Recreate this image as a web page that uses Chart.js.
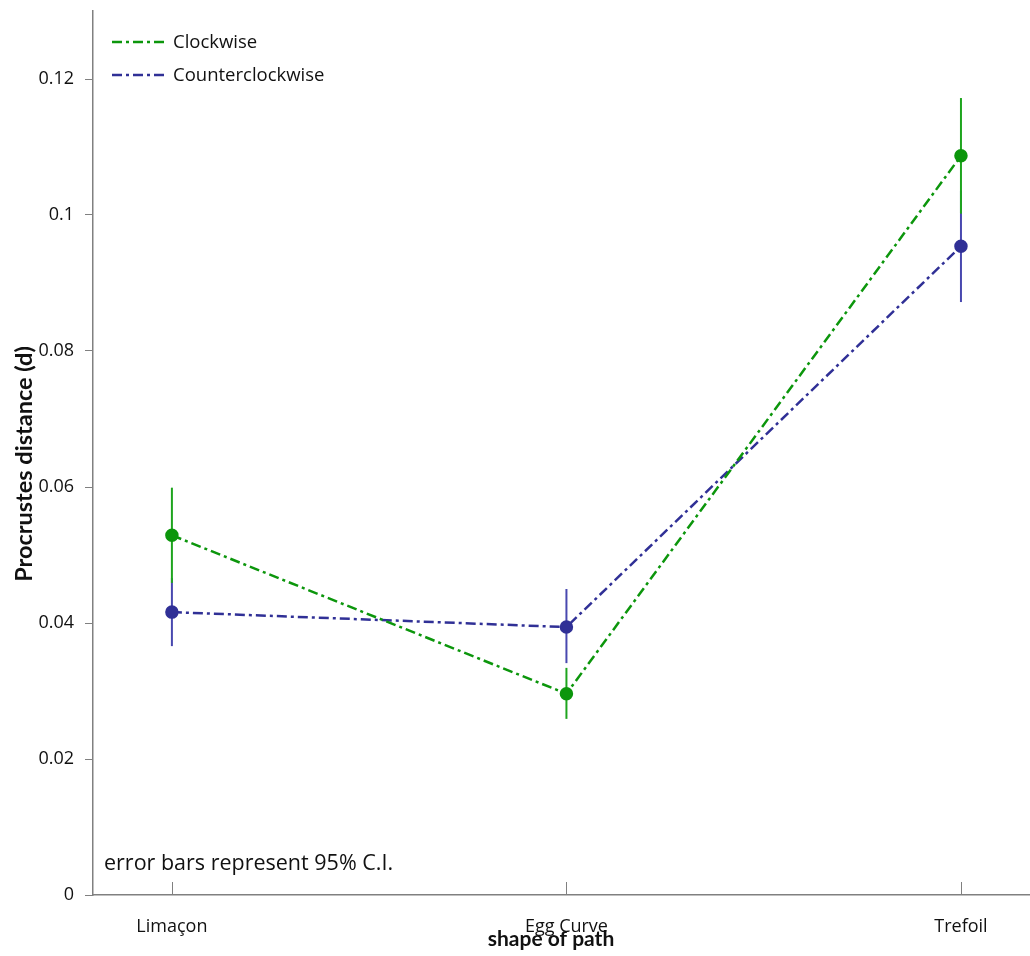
<!DOCTYPE html>
<html>
<head>
<meta charset="utf-8">
<script src="https://cdn.jsdelivr.net/npm/chart.js@4.4.1/dist/chart.umd.min.js"></script>
<style>
  html, body { margin: 0; padding: 0; background: #fff; }
  #wrap { width: 1030px; height: 956px; }
</style>
</head>
<body>
<div id="wrap"><canvas id="c" width="1030" height="956"></canvas></div>
<script>
// Shapes of path along the x axis
const categories = ['Limaçon', 'Egg Curve', 'Trefoil'];

// Mean Procrustes distance per shape, with 95% confidence limits
const clockwise     = [0.0529, 0.0296, 0.1087];
const clockwiseLow  = [0.0459, 0.0259, 0.1002];
const clockwiseHigh = [0.0599, 0.0334, 0.1172];

const counter       = [0.0416, 0.0394, 0.0954];
const counterLow    = [0.0366, 0.0341, 0.0872];
const counterHigh   = [0.0466, 0.0450, 0.1036];

const yTicks = [0, 0.02, 0.04, 0.06, 0.08, 0.1, 0.12];

const xTitle = 'shape of path';
const yTitle = 'Procrustes distance (d)';
const footnote = 'error bars represent 95% C.I.';

const FONT = '"Open Sans", "Noto Sans", sans-serif';
const BOLD_FONT = 'Lato, "Open Sans", sans-serif';
const GREEN = 'rgb(12,150,12)';
const GREEN_BAR = 'rgb(30,165,30)';
const BLUE = 'rgb(48,48,150)';
const BLUE_BAR = 'rgb(72,72,175)';
const AXIS = '#808080';

const toPoints = arr => arr.map((v, i) => ({ x: i, y: v }));

// Vertical confidence-interval bars, drawn beneath the lines and markers
const errorBars = {
  id: 'errorBars',
  beforeDatasetsDraw(chart) {
    const { ctx, scales: { x, y } } = chart;
    const sets = [
      { low: counterLow, high: counterHigh, color: BLUE_BAR },
      { low: clockwiseLow, high: clockwiseHigh, color: GREEN_BAR }
    ];
    ctx.save();
    ctx.lineWidth = 2;
    sets.forEach(s => {
      ctx.strokeStyle = s.color;
      s.low.forEach((lo, i) => {
        const px = x.getPixelForValue(i);
        ctx.beginPath();
        ctx.moveTo(px, y.getPixelForValue(lo));
        ctx.lineTo(px, y.getPixelForValue(s.high[i]));
        ctx.stroke();
      });
    });
    ctx.restore();
  }
};

// Category ticks pointing up into the plot, axis titles, legend and footnote
const decorations = {
  id: 'decorations',
  afterDraw(chart) {
    const { ctx, scales: { x, y } } = chart;
    ctx.save();
    ctx.strokeStyle = AXIS;
    ctx.lineWidth = 1;
    const base = y.getPixelForValue(0);
    categories.forEach((c, i) => {
      const px = Math.round(x.getPixelForValue(i)) + 0.5;
      ctx.beginPath();
      ctx.moveTo(px, base);
      ctx.lineTo(px, base - 13);
      ctx.stroke();
    });

    ctx.fillStyle = '#111';
    ctx.textBaseline = 'middle';

    // axis titles
    ctx.font = 'bold 21px ' + BOLD_FONT;
    ctx.textAlign = 'center';
    ctx.fillText(xTitle, 551, 939);
    ctx.save();
    ctx.translate(24.5, 464);
    ctx.rotate(-Math.PI / 2);
    ctx.font = 'bold 23.5px ' + BOLD_FONT;
    ctx.fillText(yTitle, 0, 0);
    ctx.restore();

    // legend
    ctx.textAlign = 'left';
    ctx.font = '18.5px ' + FONT;
    chart.data.datasets.forEach((ds, k) => {
      const ly = 42 + k * 33;
      ctx.strokeStyle = ds.borderColor;
      ctx.lineWidth = 2.5;
      ctx.setLineDash(ds.borderDash);
      ctx.beginPath();
      ctx.moveTo(112, ly);
      ctx.lineTo(165, ly);
      ctx.stroke();
      ctx.setLineDash([]);
      ctx.fillText(ds.label, 173, ly + 1);
    });

    ctx.font = '21.5px ' + FONT;
    ctx.fillText(footnote, 104, 864);
    ctx.restore();
  }
};

new Chart(document.getElementById('c'), {
  type: 'line',
  data: {
    datasets: [
      {
        label: 'Clockwise',
        data: toPoints(clockwise),
        borderColor: GREEN,
        backgroundColor: GREEN,
        pointBackgroundColor: GREEN,
        pointBorderColor: GREEN,
        borderWidth: 2.5,
        borderDash: [10, 4, 3, 4],
        pointRadius: 5.5,
        tension: 0,
        order: 1
      },
      {
        label: 'Counterclockwise',
        data: toPoints(counter),
        borderColor: BLUE,
        backgroundColor: BLUE,
        pointBackgroundColor: BLUE,
        pointBorderColor: BLUE,
        borderWidth: 2.5,
        borderDash: [10, 4, 3, 4],
        pointRadius: 5.5,
        tension: 0,
        order: 2
      }
    ]
  },
  options: {
    responsive: false,
    animation: false,
    layout: { autoPadding: false, padding: { top: 11, right: 0, bottom: 0, left: 0 } },
    plugins: {
      legend: { display: false },
      tooltip: { enabled: false }
    },
    scales: {
      x: {
        type: 'linear',
        min: -0.2,
        max: 2.175,
        afterBuildTicks: s => { s.ticks = categories.map((_, i) => ({ value: i })); },
        afterFit: s => { s.height = 61; s.paddingLeft = 0; s.paddingRight = 0; },
        grid: { display: false, drawTicks: false },
        border: { color: AXIS, width: 1.5 },
        ticks: {
          padding: 21,
          color: '#111',
          font: { family: FONT, size: 18 },
          callback: v => categories[v]
        },
        title: { display: false }
      },
      y: {
        min: 0,
        max: 0.13,
        afterBuildTicks: s => { s.ticks = yTicks.map(v => ({ value: v })); },
        afterFit: s => { s.width = 93; s.paddingTop = 0; s.paddingBottom = 0; },
        grid: { drawOnChartArea: false, drawTicks: true, tickLength: 8, color: AXIS },
        border: { color: AXIS, width: 1.5 },
        ticks: {
          padding: 11,
          color: '#111',
          font: { family: FONT, size: 18 },
          callback: v => String(+v.toFixed(2))
        },
        title: { display: false }
      }
    }
  },
  plugins: [errorBars, decorations]
});
</script>
</body>
</html>
